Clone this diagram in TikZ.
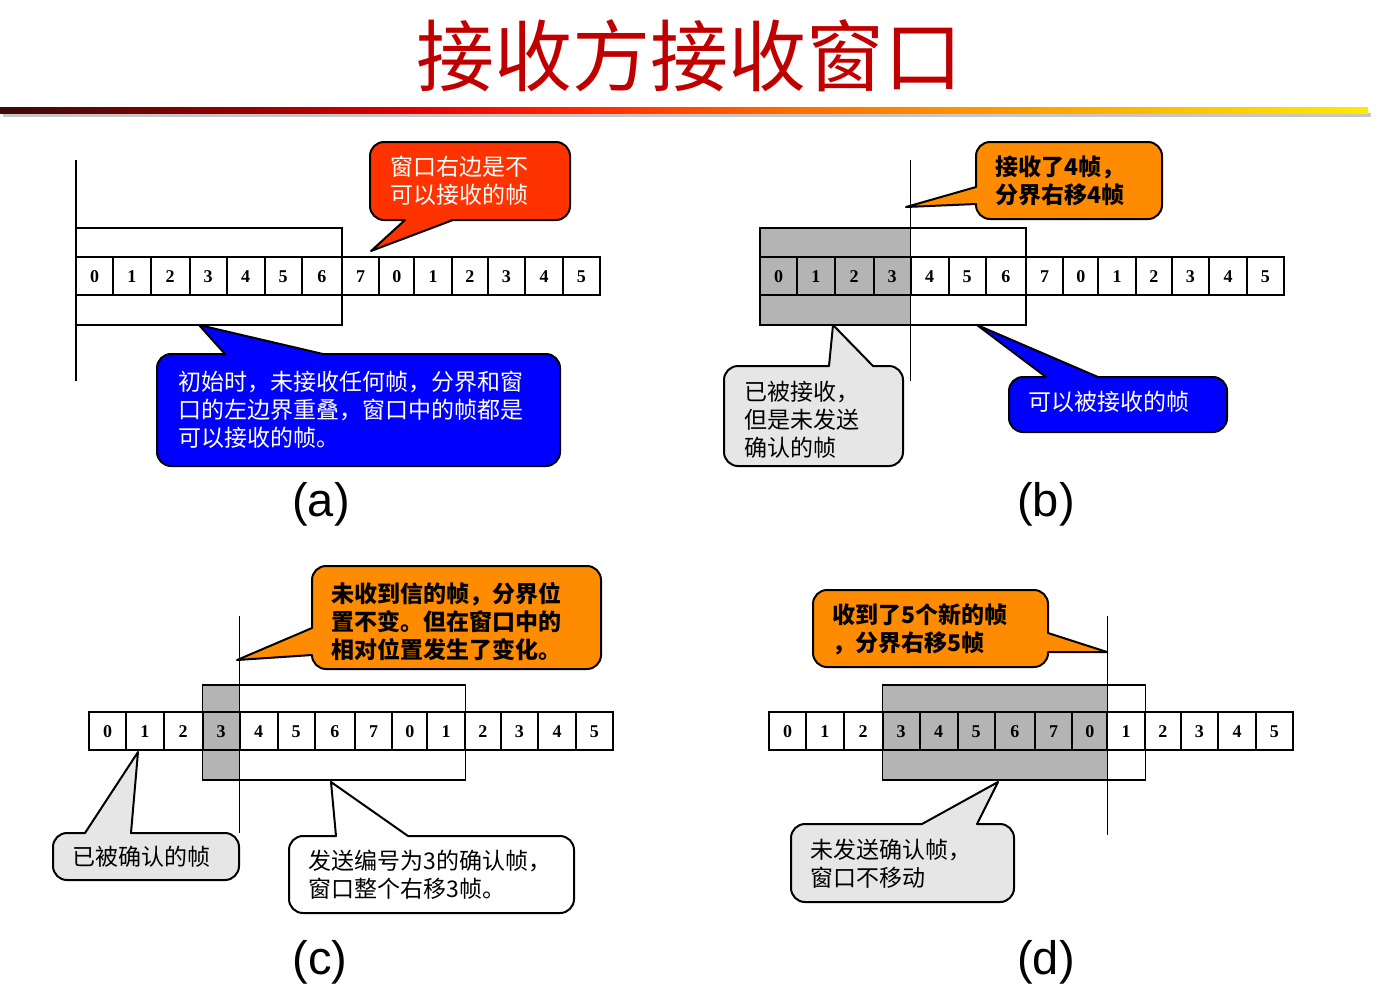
\documentclass[tikz,border=0pt]{standalone}
\usepackage{fontspec}
\setmainfont{Liberation Serif}
\newfontfamily\cjkfont{Noto Sans CJK SC}
\newfontfamily\labfont{Liberation Sans}

\definecolor{titlered}{RGB}{192,0,0}
\definecolor{redfill}{RGB}{255,51,0}
\definecolor{orangefill}{RGB}{255,140,0}
\definecolor{bluefill}{RGB}{0,0,255}
\definecolor{palegray}{RGB}{230,230,230}
\definecolor{cellgray}{RGB}{180,180,180}
\definecolor{barA}{RGB}{60,10,10}
\definecolor{barB}{RGB}{150,0,0}
\definecolor{barC}{RGB}{225,0,0}
\definecolor{barD}{RGB}{255,30,0}
\definecolor{barE}{RGB}{255,110,0}
\definecolor{barF}{RGB}{255,175,0}
\definecolor{barG}{RGB}{255,235,0}

% the path is mapped onto the 25bp..75bp part of the shading
\pgfdeclarehorizontalshading{titlebar}{100bp}{color(0bp)=(barA); color(25bp)=(barA); color(34bp)=(barB); color(40bp)=(barC); color(45bp)=(barD); color(54bp)=(barE); color(65bp)=(barF); color(75bp)=(barG); color(100bp)=(barG)}

% corner radius of the speech bubbles and the four corner pieces
\def\crad{14}
\newcommand\cTL[2]{-- (#1,{#2+\crad}) arc[start angle=180,end angle=270,radius=\crad]}
\newcommand\cTR[2]{-- ({#1-\crad},#2) arc[start angle=-90,end angle=0,radius=\crad]}
\newcommand\cBR[2]{-- (#1,{#2-\crad}) arc[start angle=0,end angle=90,radius=\crad]}
\newcommand\cBL[2]{-- ({#1+\crad},#2) arc[start angle=90,end angle=180,radius=\crad]}

% left edges of the 14 frame cells, relative to the row start
\def\bnd{{0,37.4,74.5,113.6,150.8,188.6,225.8,266,303.4,338.2,376.1,411.6,449,487.1,523.5}}

% #1 name prefix, #2 row left x, #3 row top y, #4 labels, #5..#6 shaded cells
\newcommand\framerow[6]{%
  \foreach \lab [count=\i from 0] in {#4} {
    \pgfmathsetmacro\xa{#2+\bnd[\i]}
    \pgfmathsetmacro\xb{#2+\bnd[\i+1]}
    \def\cf{white}%
    \ifnum\i<#5\relax\else\ifnum\i>#6\relax\else\def\cf{cellgray}\fi\fi
    \draw[cellbox, fill=\cf] (\xa,#3) rectangle (\xb,{#3+38});
    \node[celltxt] (#1-\i) at ({(\xa+\xb)/2},{#3+20}) {\lab};
  }
}

\tikzset{
  cellbox/.style={draw=black, line width=1pt},
  celltxt/.style={font=\fontsize{9}{10}\selectfont\bfseries, inner sep=0pt},
  winbox/.style={draw=black, line width=0.55pt},
  divider/.style={draw=black, line width=0.6pt},
  bubble/.style={draw=black, line width=1pt, line join=round},
  btext/.style={anchor=west, align=left, inner sep=0pt, font=\cjkfont\fontsize{11.5}{14}\selectfont},
  btextb/.style={anchor=west, align=left, inner sep=0pt, font=\cjkfont\bfseries\fontsize{11.5}{14}\selectfont},
  plabel/.style={font=\labfont\fontsize{23.5}{26}\selectfont, inner sep=0pt},
}

\begin{document}
\begin{tikzpicture}[x=0.5pt,y=-0.5pt]
\useasboundingbox (0,0) rectangle (1384,986);

% heading and rule
\node[font=\cjkfont\fontsize{39}{40}\selectfont, text=titlered, inner sep=0pt] (title) at (689,56) {接收方接收窗口};
\fill[black!22] (3,113) rectangle (1371,117);
\shade[shading=titlebar] (0,107) rectangle (1368,113);

% ---------------- (a) ----------------
\draw[winbox, fill=white] (76,228) rectangle (342,325);
\framerow{fa}{76}{257}{0,1,2,3,4,5,6,7,0,1,2,3,4,5}{99}{-1}
\coordinate (divA-t) at (76,160);
\coordinate (divA-b) at (76,381);
\draw[divider] (divA-t) -- (divA-b);

\draw[bubble, fill=redfill] (405,220) \cBL{370}{220} \cTL{370}{142} \cTR{570}{142} \cBR{570}{220} -- (453,220) -- (371,251) -- cycle;
\node[btext, text=white] (noteA1) at (390,181) {窗口右边是不\\可以接收的帧};

\draw[bubble, fill=bluefill] (323,354) \cTR{560}{354} \cBR{560}{466} \cBL{157}{466} \cTL{157}{354} -- (225,354) -- (199,325) -- cycle;
\node[btext, text=white] (noteA2) at (178,410) {初始时，未接收任何帧，分界和窗\\口的左边界重叠，窗口中的帧都是\\可以接收的帧。};

\node[plabel] (labA) at (321,504) {(a)};

% ---------------- (b) ----------------
\draw[winbox, fill=cellgray] (760,228) rectangle (910.8,325);
\draw[winbox, fill=white] (910.8,228) rectangle (1026,325);
\framerow{fb}{760}{257}{0,1,2,3,4,5,6,7,0,1,2,3,4,5}{0}{3}
\coordinate (divB-t) at (910.8,160);
\coordinate (divB-b) at (910.8,381);
\draw[divider] (divB-t) -- (divB-b);

\draw[bubble, fill=orangefill] (976,187) \cTL{976}{142} \cTR{1162}{142} \cBR{1162}{219} \cBL{976}{219} -- (976,204) -- (906,207) -- cycle;
\node[btextb] (noteB1) at (995,181) {接收了4帧，\\分界右移4帧};

\draw[bubble, fill=palegray] (873,366) \cTR{903}{366} \cBR{903}{466} \cBL{724}{466} \cTL{724}{366} -- (829,366) -- (833,325) -- cycle;
\node[btext] (noteB2) at (744,420) {已被接收，\\但是未发送\\确认的帧};

\draw[bubble, fill=bluefill] (1098,377) \cTR{1227}{377} \cBR{1227}{432} \cBL{1009}{432} \cTL{1009}{377} -- (1046,377) -- (977,325) -- cycle;
\node[btext, text=white] (noteB3) at (1028,402) {可以被接收的帧};

\node[plabel] (labB) at (1046,504) {(b)};

% ---------------- (c) ----------------
\draw[winbox, fill=cellgray] (202.6,685) rectangle (239.8,780);
\draw[winbox, fill=white] (239.8,685) rectangle (465.1,780);
\framerow{fc}{89}{712}{0,1,2,3,4,5,6,7,0,1,2,3,4,5}{3}{3}
\coordinate (divC-t) at (239.8,616);
\coordinate (divC-b) at (239.8,833);
\draw[divider] (divC-t) -- (divC-b);

\draw[bubble, fill=orangefill] (312,628) \cTL{312}{566} \cTR{601}{566} \cBR{601}{669} \cBL{312}{669} -- (312,655) -- (237,660) -- cycle;
\node[btextb] (noteC1) at (331,622) {未收到信的帧，分界位\\置不变。但在窗口中的\\相对位置发生了变化。};

\draw[bubble, fill=palegray] (131,833) \cTR{239}{833} \cBR{239}{880} \cBL{53}{880} \cTL{53}{833} -- (85,833) -- (138,752) -- cycle;
\node[btext] (noteC2) at (72,857) {已被确认的帧};

\draw[bubble, fill=white] (408,836) \cTR{574}{836} \cBR{574}{913} \cBL{289}{913} \cTL{289}{836} -- (336,836) -- (331,782) -- cycle;
\node[btext] (noteC3) at (308,875) {发送编号为3的确认帧，\\窗口整个右移3帧。};

\node[plabel] (labC) at (320,962) {(c)};

% ---------------- (d) ----------------
\draw[winbox, fill=cellgray] (882.6,685) rectangle (1107.2,780);
\draw[winbox, fill=white] (1107.2,685) rectangle (1145.1,780);
\framerow{fd}{769}{712}{0,1,2,3,4,5,6,7,0,1,2,3,4,5}{3}{8}
\coordinate (divD-t) at (1107.2,616);
\coordinate (divD-b) at (1107.2,835);
\draw[divider] (divD-t) -- (divD-b);

\draw[bubble, fill=orangefill] (1048,652) \cBR{1048}{667} \cBL{813}{667} \cTL{813}{590} \cTR{1048}{590} -- (1048,633) -- (1107,652) -- cycle;
\node[btextb] (noteD1) at (832,629) {收到了5个新的帧\\，分界右移5帧};

\draw[bubble, fill=palegray] (977,824) \cTR{1014}{824} \cBR{1014}{902} \cBL{791}{902} \cTL{791}{824} -- (922,824) -- (998,782) -- cycle;
\node[btext] (noteD2) at (810,864) {未发送确认帧，\\窗口不移动};

\node[plabel] (labD) at (1046,962) {(d)};
\end{tikzpicture}
\end{document}
